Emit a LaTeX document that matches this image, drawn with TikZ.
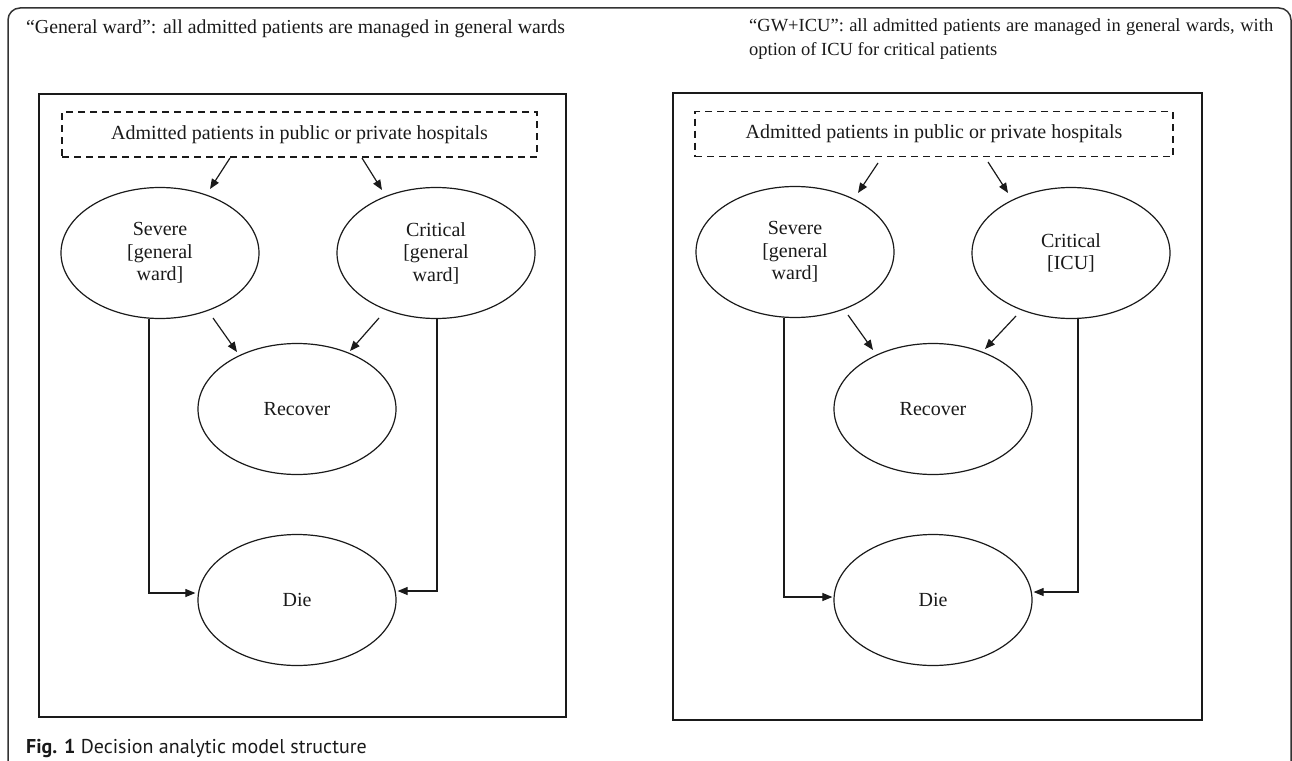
\documentclass[tikz,border=0pt]{standalone}
\usepackage{fontspec}
\setmainfont{Liberation Serif}
\newfontfamily\capfont{PT Sans}
\usetikzlibrary{arrows.meta,shapes.geometric,calc}
\definecolor{ink}{HTML}{1A1A1A}
\begin{document}
\begin{tikzpicture}[x=1pt,y=-1pt,
  hdrL/.style={font=\fontsize{19.8}{24}\selectfont, text=ink, inner sep=0pt},
  hdrR/.style={font=\fontsize{18.5}{24}\selectfont, text=ink, inner sep=0pt},
  state/.style={ellipse, draw=ink, line width=1.2pt, minimum width=198pt, minimum height=131pt, inner sep=0pt, align=center, font=\fontsize{20}{22.5}\selectfont, text=ink},
  dbox/.style={draw=ink, dashed, dash pattern=on 7pt off 5pt, line width=1.2pt, minimum height=45pt, inner sep=0pt, font=\fontsize{20}{22.5}\selectfont, text=ink},
  panel/.style={draw=ink, line width=1.5pt},
  frame/.style={draw=black!80, line width=1.5pt, rounded corners=12pt},
  arr/.style={draw=ink, line width=1.2pt, -{Triangle[length=10pt,width=8pt]}},
  vline/.style={draw=ink, line width=1.1pt, -{Triangle[length=10pt,width=8pt]}}
]
\useasboundingbox (0,0) rectangle (1292,760);
% outer figure frame
\draw[frame] (8,790) -- (8,8) -- (1291,8) -- (1291,790);

% headers
\node[hdrL, anchor=base west] (hL) at (26,34) {“General ward”: all admitted patients are managed in general wards};
\node[hdrR, anchor=base west, text width=524pt, align=justify] (hR) at (749,32) {“GW+ICU”: all admitted patients are managed in general wards, with option of ICU for critical patients};

% panels
\node[panel, minimum width=527pt, minimum height=623pt, inner sep=0pt] (pL) at (302.5,405.5) {};
\node[panel, minimum width=529pt, minimum height=627pt, inner sep=0pt] (pR) at (937.5,406.5) {};

% ---------- left panel ----------
\node[dbox, minimum width=475pt] (admL) at (299.5,134.5) {Admitted patients in public or private hospitals};
\node[state] (sevL) at (160,253) {Severe\\{[}general\\ward{]}};
\node[state] (critL) at (436,253) {Critical\\{[}general\\ward{]}};
\node[state] (recL) at (297,409) {Recover};
\node[state] (dieL) at (297,600) {Die};

\coordinate (l1s) at (230,158); \coordinate (l1e) at (210,189);
\coordinate (l2s) at (362,158); \coordinate (l2e) at (382,190);
\coordinate (l3s) at (213,318); \coordinate (l3e) at (237,352);
\coordinate (l4s) at (379,318); \coordinate (l4e) at (350,351);
\draw[arr] (l1s) -- (l1e);
\draw[arr] (l2s) -- (l2e);
\draw[arr] (l3s) -- (l3e);
\draw[arr] (l4s) -- (l4e);
\draw[vline] ([xshift=-11pt]sevL.south) |- ([yshift=7pt,xshift=-2pt]dieL.west);
\draw[vline] ([xshift=1pt]critL.south) |- ([yshift=9pt,xshift=1pt]dieL.east);

% ---------- right panel ----------
\node[dbox, minimum width=478pt] (admR) at (934,134) {Admitted patients in public or private hospitals};
\node[state] (sevR) at (795,252) {Severe\\{[}general\\ward{]}};
\node[state] (critR) at (1071,253) {Critical\\{[}ICU{]}};
\node[state] (recR) at (933,409) {Recover};
\node[state] (dieR) at (933,600) {Die};

\coordinate (r1s) at (878,163); \coordinate (r1e) at (858,193);
\coordinate (r2s) at (988,162); \coordinate (r2e) at (1008,193);
\coordinate (r3s) at (848,315); \coordinate (r3e) at (873,350);
\coordinate (r4s) at (1016,316); \coordinate (r4e) at (985,349);
\draw[arr] (r1s) -- (r1e);
\draw[arr] (r2s) -- (r2e);
\draw[arr] (r3s) -- (r3e);
\draw[arr] (r4s) -- (r4e);
\draw[vline] ([xshift=-11pt]sevR.south) |- ([yshift=3pt,xshift=-1pt]dieR.west);
\draw[vline] ([xshift=7pt]critR.south) |- ([yshift=8pt,xshift=1pt]dieR.east);

% caption
\node[anchor=base west, inner sep=0pt, font=\capfont\fontsize{20}{24}\selectfont, text=ink] (cap) at (26,753) {\textbf{Fig. 1} Decision analytic model structure};
\end{tikzpicture}
\end{document}
